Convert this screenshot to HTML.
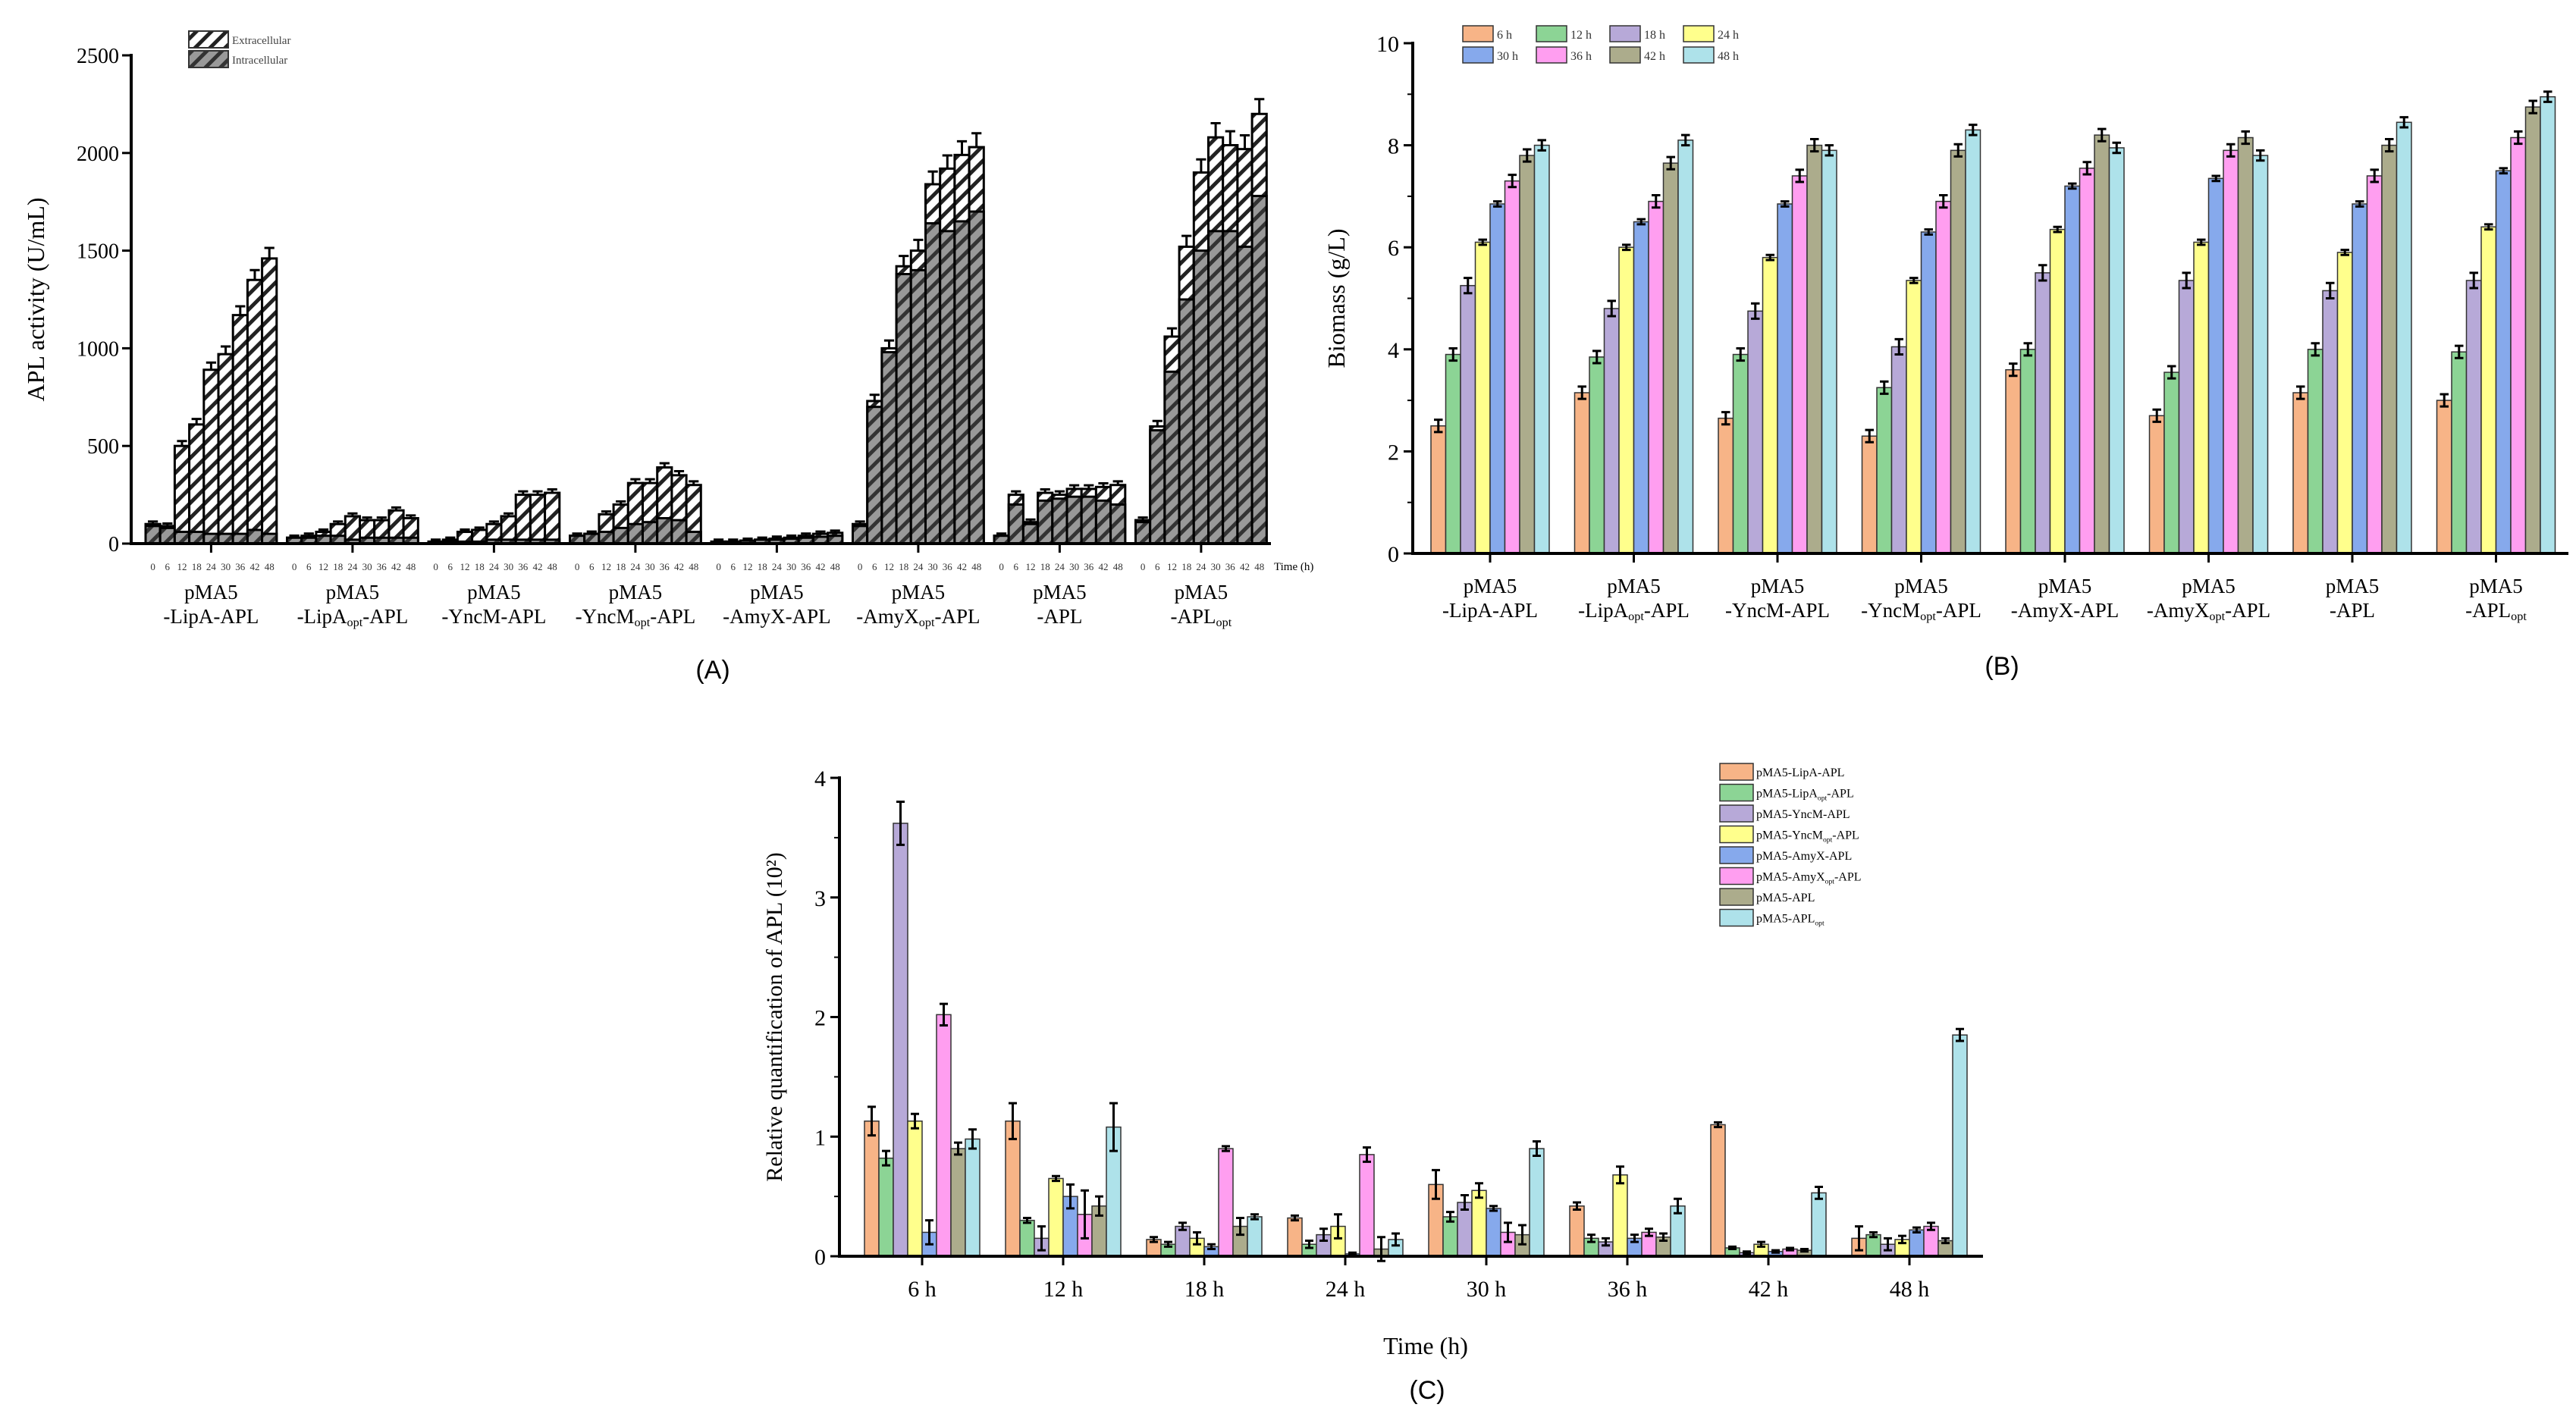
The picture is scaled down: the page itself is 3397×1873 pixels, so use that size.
<!DOCTYPE html>
<html><head><meta charset="utf-8">
<style>
html,body{margin:0;padding:0;background:#fff;}
svg{display:block;font-family:"Liberation Serif",serif;}
</style></head>
<body>
<svg id="fig" width="3397" height="1873" viewBox="0 0 3397 1873" xmlns="http://www.w3.org/2000/svg">
<defs>
<pattern id="hatchW" patternUnits="userSpaceOnUse" width="14" height="14" patternTransform="rotate(45)">
<rect width="14" height="14" fill="#fff"/><rect width="5" height="14" fill="#222"/></pattern>
<pattern id="hatchG" patternUnits="userSpaceOnUse" width="14" height="14" patternTransform="rotate(45)">
<rect width="14" height="14" fill="#999"/><rect width="5" height="14" fill="#333"/></pattern>
</defs>
<g id="panelA"></g>
<g id="panelB"></g>
<g id="panelC"></g>
</svg>
<script>
// ---------- Panel A data ----------
const groupsA = ["LipA-APL","LipAopt-APL","YncM-APL","YncMopt-APL","AmyX-APL","AmyXopt-APL","APL","APLopt"];
const timesA = ["0","6","12","18","24","30","36","42","48"];
const ticksA = [0,500,1000,1500,2000,2500];
const extraA = [
 [100,90,500,610,890,970,1170,1350,1460],
 [30,40,60,100,140,120,120,170,130],
 [10,20,60,70,100,140,250,250,260],
 [40,50,150,200,310,310,390,350,300],
 [10,10,15,20,25,30,40,50,55],
 [100,730,1000,1420,1500,1840,1920,1990,2030],
 [40,250,110,260,250,280,280,290,300],
 [120,600,1060,1520,1900,2080,2040,2020,2200]];
const intraA = [
 [90,80,60,60,50,50,50,70,50],
 [30,30,40,40,20,30,30,30,30],
 [10,10,10,10,20,20,20,20,20],
 [40,50,60,80,100,110,130,120,60],
 [10,10,15,20,20,25,30,35,40],
 [90,700,980,1380,1400,1640,1600,1650,1700],
 [40,200,100,220,230,240,240,220,200],
 [110,580,880,1250,1500,1600,1600,1520,1780]];
// ---------- Panel B data ----------
const groupsB = groupsA;
const timesB = ["6 h","12 h","18 h","24 h","30 h","36 h","42 h","48 h"];
const ticksB = [0,2,4,6,8,10];
const biomassB = [
 [2.5,3.9,5.25,6.1,6.85,7.3,7.8,8.0],
 [3.15,3.85,4.8,6.0,6.5,6.9,7.65,8.1],
 [2.65,3.9,4.75,5.8,6.85,7.4,8.0,7.9],
 [2.3,3.25,4.05,5.35,6.3,6.9,7.9,8.3],
 [3.6,4.0,5.5,6.35,7.2,7.55,8.2,7.95],
 [2.7,3.55,5.35,6.1,7.35,7.9,8.15,7.8],
 [3.15,4.0,5.15,5.9,6.85,7.4,8.0,8.45],
 [3.0,3.95,5.35,6.4,7.5,8.15,8.75,8.95]];
const errB = [0.12,0.12,0.15,0.05,0.05,0.12,0.12,0.1];
// ---------- Panel C data ----------
const timesC = ["6 h","12 h","18 h","24 h","30 h","36 h","42 h","48 h"];
const ticksC = [0,1,2,3,4];
const seriesC = ["pMA5-LipA-APL","pMA5-LipAopt-APL","pMA5-YncM-APL","pMA5-YncMopt-APL","pMA5-AmyX-APL","pMA5-AmyXopt-APL","pMA5-APL","pMA5-APLopt"];
const quantC = [
 [1.13,0.82,3.62,1.13,0.2,2.02,0.9,0.98],
 [1.13,0.3,0.15,0.65,0.5,0.35,0.42,1.08],
 [0.14,0.1,0.25,0.15,0.08,0.9,0.25,0.33],
 [0.32,0.1,0.18,0.25,0.02,0.85,0.06,0.14],
 [0.6,0.33,0.45,0.55,0.4,0.2,0.18,0.9],
 [0.42,0.15,0.12,0.68,0.15,0.2,0.16,0.42],
 [1.1,0.07,0.03,0.1,0.04,0.06,0.05,0.53],
 [0.15,0.18,0.1,0.14,0.22,0.25,0.13,1.85]];
const errC = [
 [0.12,0.06,0.18,0.06,0.1,0.09,0.05,0.08],
 [0.15,0.02,0.1,0.02,0.1,0.2,0.08,0.2],
 [0.02,0.02,0.03,0.05,0.02,0.02,0.07,0.02],
 [0.02,0.03,0.05,0.1,0.01,0.06,0.1,0.05],
 [0.12,0.04,0.06,0.06,0.02,0.08,0.08,0.06],
 [0.03,0.03,0.03,0.07,0.03,0.03,0.03,0.06],
 [0.02,0.01,0.01,0.02,0.01,0.01,0.01,0.05],
 [0.1,0.02,0.05,0.03,0.02,0.03,0.02,0.05]];
const colors = ["#F7B487","#8CD495","#B7A9D8","#FFFF8C","#86A9EC","#FF9EF0","#ACAC8C","#AEE2EA"];

const NS="http://www.w3.org/2000/svg";
function mk(parent,tag,attrs,text){const e=document.createElementNS(NS,tag);for(const k in attrs)e.setAttribute(k,attrs[k]);if(text!==undefined)e.textContent=text;parent.appendChild(e);return e;}
function opt(parent,x,y,base,size,anchor,name){
  const t=mk(parent,'text',{x:x,y:y,'font-size':size,'text-anchor':anchor});
  
  
  if(base.indexOf('opt')>=0){const p=base.split('opt');mk(t,'tspan',{},p[0]);mk(t,'tspan',{'font-size':size*0.6,dy:4},'opt');mk(t,'tspan',{dy:-4},p[1]);}
  else t.textContent=base;
  return t;
}

// ======== Panel A ========
(function(){
 const g=document.getElementById('panelA');
 const x0=173,xEnd=1676,y0=717,yTop=73,maxV=2500;
 const Y=v=>y0-(v/maxV)*(y0-yTop);
 const gStart=192,gStep=186.5,bw=19.2;
 const X=(gi,ti)=>gStart+gi*gStep+ti*bw;
 for(let gi=0;gi<groupsA.length;gi++){
  for(let ti=0;ti<timesA.length;ti++){
   const x=X(gi,ti);
   const v1=extraA[gi][ti],v2=intraA[gi][ti];
   const r1=mk(g,'rect',{x:x,y:Y(v1),width:bw,height:y0-Y(v1),fill:'url(#hatchW)',stroke:'#000','stroke-width':3});
   
   
   const e1=mk(g,'path',{d:`M${x+bw/2} ${Y(v1)}V${Y(v1*1.03+10)}M${x+3} ${Y(v1*1.03+10)}H${x+bw-3}`,stroke:'#000','stroke-width':3,fill:'none'});
   
   
   const r2=mk(g,'rect',{x:x,y:Y(v2),width:bw,height:y0-Y(v2),fill:'url(#hatchG)',stroke:'#000','stroke-width':3});
   
   
   const tl=mk(g,'text',{x:x+bw/2,y:752,'font-size':13,'text-anchor':'middle',fill:'#333'},timesA[ti]);
   
   
  }
  const cx=X(gi,4)+bw/2;
  mk(g,'line',{x1:cx,x2:cx,y1:y0,y2:y0+12,stroke:'#000','stroke-width':3});
  const p=mk(g,'text',{x:cx,y:790,'font-size':27,'text-anchor':'middle'},'pMA5');
  
  
  opt(g,cx,822,'-'+groupsA[gi],27,'middle','group-label-construct');
 }
 const ax=mk(g,'path',{d:`M${x0} ${yTop-2}V${y0}H${xEnd}`,stroke:'#000','stroke-width':4,fill:'none'});
 
 
 for(const t of ticksA){
  mk(g,'line',{x1:x0-12,x2:x0,y1:Y(t),y2:Y(t),stroke:'#000','stroke-width':3});
  const tl=mk(g,'text',{x:x0-16,y:Y(t)+10,'font-size':28,'text-anchor':'end'},t);
  
  
 }
 const yt=mk(g,'text',{x:0,y:0,'font-size':32,'text-anchor':'middle',transform:`translate(58,${(y0+yTop)/2}) rotate(-90)`},'APL activity (U/mL)');
 
 
 const xt=mk(g,'text',{x:1680,y:752,'font-size':15},'Time (h)');
 
 
 const lg=mk(g,'g',{});
 
 
 mk(lg,'rect',{x:249,y:41,width:52,height:22,fill:'url(#hatchW)',stroke:'#333','stroke-width':2});
 mk(lg,'rect',{x:249,y:67,width:52,height:22,fill:'url(#hatchG)',stroke:'#333','stroke-width':2});
 mk(lg,'text',{x:306,y:58,'font-size':15,fill:'#444'},'Extracellular');
 mk(lg,'text',{x:306,y:84,'font-size':15,fill:'#444'},'Intracellular');
 const pl=mk(g,'text',{x:940,y:895,'font-size':34,'text-anchor':'middle','font-family':'Liberation Sans, sans-serif'},'(A)');
 
 
})();

// ======== Panel B ========
(function(){
 const g=document.getElementById('panelB');
 const x0=1863,xEnd=3387,y0=730,yTop=57,maxV=10;
 const Y=v=>y0-(v/maxV)*(y0-yTop);
 const gStart=1887,gStep=189.5,bw=19.5;
 const X=(gi,ti)=>gStart+gi*gStep+ti*bw;
 for(let gi=0;gi<groupsB.length;gi++){
  for(let ti=0;ti<timesB.length;ti++){
   const x=X(gi,ti),v=biomassB[gi][ti];
   const r=mk(g,'rect',{x:x,y:Y(v),width:bw,height:y0-Y(v),fill:colors[ti],stroke:'#333','stroke-width':1.5});
   
   
   const e=mk(g,'path',{d:`M${x+bw/2} ${Y(v-errB[ti])}V${Y(v+errB[ti])}M${x+4} ${Y(v+errB[ti])}H${x+bw-4}M${x+4} ${Y(v-errB[ti])}H${x+bw-4}`,stroke:'#000','stroke-width':3,fill:'none'});
   
   
  }
  const cx=X(gi,4);
  mk(g,'line',{x1:cx,x2:cx,y1:y0,y2:y0+12,stroke:'#000','stroke-width':3});
  const p=mk(g,'text',{x:cx,y:782,'font-size':27,'text-anchor':'middle'},'pMA5');
  
  
  opt(g,cx,814,'-'+groupsB[gi],27,'middle','group-label-construct');
 }
 const ax=mk(g,'path',{d:`M${x0} ${yTop-2}V${y0}H${xEnd}`,stroke:'#000','stroke-width':4,fill:'none'});
 
 
 for(const t of ticksB){
  mk(g,'line',{x1:x0-12,x2:x0,y1:Y(t),y2:Y(t),stroke:'#000','stroke-width':3});
  mk(g,'line',{x1:x0-7,x2:x0,y1:Y(t+1),y2:Y(t+1),stroke:'#000','stroke-width':2});
  const tl=mk(g,'text',{x:x0-18,y:Y(t)+11,'font-size':30,'text-anchor':'end'},t);
  
  
 }
 const yt=mk(g,'text',{x:0,y:0,'font-size':32,'text-anchor':'middle',transform:`translate(1773,${(y0+yTop)/2}) rotate(-90)`},'Biomass (g/L)');
 
 
 const lg=mk(g,'g',{});
 
 
 for(let i=0;i<8;i++){
  const c=i%4,r=Math.floor(i/4);
  const lx=1929+c*97,ly=34+r*28;
  mk(lg,'rect',{x:lx,y:ly,width:40,height:21,fill:colors[i],stroke:'#333','stroke-width':1.5});
  mk(lg,'text',{x:lx+45,y:ly+17,'font-size':16,fill:'#333'},timesB[i]);
 }
 const pl=mk(g,'text',{x:2640,y:890,'font-size':34,'text-anchor':'middle','font-family':'Liberation Sans, sans-serif'},'(B)');
 
 
})();

// ======== Panel C ========
(function(){
 const g=document.getElementById('panelC');
 const x0=1107,xEnd=2615,y0=1657,yTop=1026,maxV=4;
 const Y=v=>y0-(v/maxV)*(y0-yTop);
 const gStart=1140,gStep=186,bw=19;
 const X=(gi,si)=>gStart+gi*gStep+si*bw;
 for(let gi=0;gi<timesC.length;gi++){
  for(let si=0;si<seriesC.length;si++){
   const x=X(gi,si),v=quantC[gi][si],e=errC[gi][si];
   const r=mk(g,'rect',{x:x,y:Y(v),width:bw,height:y0-Y(v),fill:colors[si],stroke:'#333','stroke-width':1.5});
   
   
   const eb=mk(g,'path',{d:`M${x+bw/2} ${Y(v-e)}V${Y(v+e)}M${x+4} ${Y(v+e)}H${x+bw-4}M${x+4} ${Y(v-e)}H${x+bw-4}`,stroke:'#000','stroke-width':3,fill:'none'});
   
   
  }
  const cx=X(gi,4);
  mk(g,'line',{x1:cx,x2:cx,y1:y0,y2:y0+12,stroke:'#000','stroke-width':3});
  const tl=mk(g,'text',{x:cx,y:1710,'font-size':30,'text-anchor':'middle'},timesC[gi]);
  
  
 }
 const ax=mk(g,'path',{d:`M${x0} ${yTop-2}V${y0}H${xEnd}`,stroke:'#000','stroke-width':4,fill:'none'});
 
 
 for(const t of ticksC){
  mk(g,'line',{x1:x0-12,x2:x0,y1:Y(t),y2:Y(t),stroke:'#000','stroke-width':3});
  if(t<4) mk(g,'line',{x1:x0-7,x2:x0,y1:Y(t+0.5),y2:Y(t+0.5),stroke:'#000','stroke-width':2});
  const tl=mk(g,'text',{x:x0-18,y:Y(t)+11,'font-size':30,'text-anchor':'end'},t);
  
  
 }
 const yt=mk(g,'text',{x:0,y:0,'font-size':30,'text-anchor':'middle',transform:`translate(1031,${(y0+yTop)/2}) rotate(-90)`},'Relative quantification of APL (10²)');
 
 
 const xt=mk(g,'text',{x:1880,y:1786,'font-size':32,'text-anchor':'middle'},'Time (h)');
 
 
 const lg=mk(g,'g',{});
 
 
 for(let i=0;i<8;i++){
  const ly=1007+i*27.5;
  mk(lg,'rect',{x:2268,y:ly,width:44,height:22,fill:colors[i],stroke:'#333','stroke-width':1.5});
  opt(lg,2316,ly+17,seriesC[i],16,'start','legend-label');
 }
 const pl=mk(g,'text',{x:1882,y:1845,'font-size':34,'text-anchor':'middle','font-family':'Liberation Sans, sans-serif'},'(C)');
 
 
})();
</script>
</body></html>
